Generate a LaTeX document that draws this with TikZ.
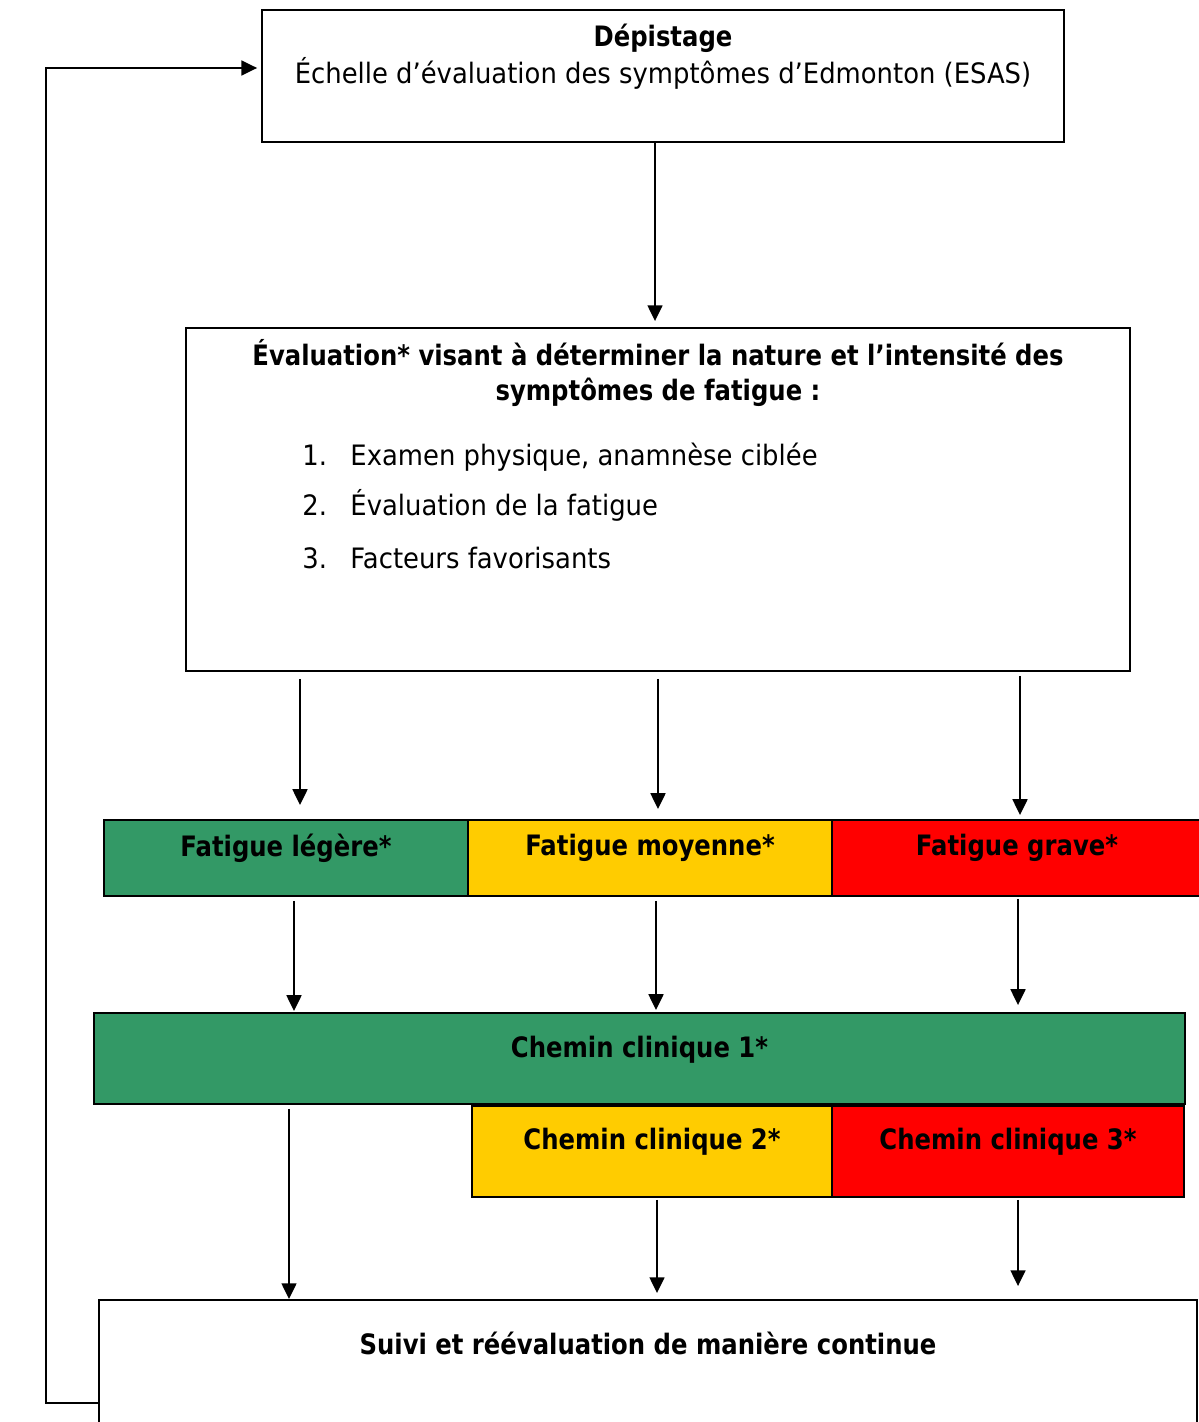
\documentclass[tikz,border=0pt]{standalone}
\usepackage{fontspec}
\setmainfont{DejaVu Sans}[FakeStretch=0.92,BoldFeatures={FakeStretch=0.865}]
\usepackage{tikz}
\usetikzlibrary{positioning,calc,arrows.meta}

\definecolor{vert}{RGB}{51,153,102}
\definecolor{jaune}{RGB}{255,204,0}
\definecolor{rouge}{RGB}{255,0,0}

\tikzset{
	boite/.style={shape=rectangle,draw=black,line width=1.1pt,inner sep=0pt},
	texte/.style={anchor=center,inner sep=0pt,align=center},
	fleche/.style={-{Triangle[length=9pt,width=8.5pt]},line width=1.1pt}
}

\begin{document}
\fontsize{16}{21}\selectfont
\begin{tikzpicture}[x=0.02cm,y=-0.02cm]
				\useasboundingbox (0,0) rectangle (1198,1422);

				\node[boite,minimum width=16.04cm,minimum height=2.64cm,label={[texte,yshift=-0.95cm]north:{\textbf{Dépistage}\\Échelle d’évaluation des symptômes d’Edmonton (ESAS)}}] (dep) at (663,76) {};
				\node[boite,minimum width=18.88cm,minimum height=6.86cm,
					label={[texte,font=\bfseries,yshift=-0.92cm]north:{Évaluation* visant à déterminer la nature et l’intensité des\\[-1pt]symptômes de fatigue :}},
					label={[texte,anchor=west,align=left,xshift=2.34cm,yshift=-3.58cm]north west:{\makebox[0.96cm][l]{1.}Examen physique, anamnèse ciblée\\[7.5pt]\makebox[0.96cm][l]{2.}Évaluation de la fatigue\\[9pt]\makebox[0.96cm][l]{3.}Facteurs favorisants}}] (eval) at (658,499.5) {};

				\node[boite,fill=vert,minimum width=7.28cm,minimum height=1.52cm,label={[texte,font=\bfseries,yshift=-0.58cm]north:{Fatigue légère*}}] (fl) at (286,858) {};
				\node[boite,fill=jaune,minimum width=7.28cm,minimum height=1.52cm,label={[texte,font=\bfseries,yshift=-0.58cm]north:{Fatigue moyenne*}}] (fm) at (650,858) {};
				\node[boite,fill=rouge,minimum width=7.4cm,minimum height=1.52cm,label={[texte,font=\bfseries,yshift=-0.58cm]north:{Fatigue grave*}}] (fg) at (1017,858) {};

				\node[boite,fill=vert,minimum width=21.82cm,minimum height=1.82cm,label={[texte,font=\bfseries,yshift=-0.76cm]north:{Chemin clinique 1*}}] (ch1) at (639.5,1058.5) {};
				\node[boite,fill=jaune,minimum width=7.2cm,minimum height=1.82cm,label={[texte,font=\bfseries,yshift=-0.74cm]north:{Chemin clinique 2*}}] (ch2) at (652,1151.5) {};
				\node[boite,fill=rouge,minimum width=7.04cm,minimum height=1.82cm,label={[texte,font=\bfseries,yshift=-0.74cm]north:{Chemin clinique 3*}}] (ch3) at (1008,1151.5) {};

				\node[boite,minimum width=21.96cm,minimum height=2.8cm,label={[texte,font=\bfseries,yshift=-0.88cm]north:{Suivi et réévaluation de manière continue}}] (suivi) at (648,1370) {};

				\draw[fleche] ($(dep.south)+(-8,0)$) -- ($(eval.north)+(-3,-6)$);
				\draw[fleche] ($(eval.south -| fl.north)+(14,7)$) -- ($(fl.north)+(14,-14)$);
				\draw[fleche] ($(eval.south -| fm.north)+(8,7)$) -- ($(fm.north)+(8,-10)$);
				\draw[fleche] ($(eval.south -| fg.north)+(3,4)$) -- ($(fg.north)+(3,-4)$);
				\draw[fleche] ($(fl.south)+(8,4)$) -- ($(ch1.north -| fl.south)+(8,-1)$);
				\draw[fleche] ($(fm.south)+(6,4)$) -- ($(ch1.north -| fm.south)+(6,-2)$);
				\draw[fleche] ($(fg.south)+(1,2)$) -- ($(ch1.north -| fg.south)+(1,-7)$);
				\draw[fleche] ($(ch1.south -| fl.south)+(3,4)$) -- ($(suivi.north -| fl.south)+(3,0)$);
				\draw[fleche] ($(ch2.south)+(5,2)$) -- ($(suivi.north -| ch2.south)+(5,-6)$);
				\draw[fleche] ($(ch3.south)+(10,2)$) -- ($(suivi.north -| ch3.south)+(10,-13)$);
				\draw[fleche] ($(suivi.west)+(0,33)$) -- ++(-52,0) |- ($(dep.west)+(-4,-8)$);
			\end{tikzpicture}
\end{document}
